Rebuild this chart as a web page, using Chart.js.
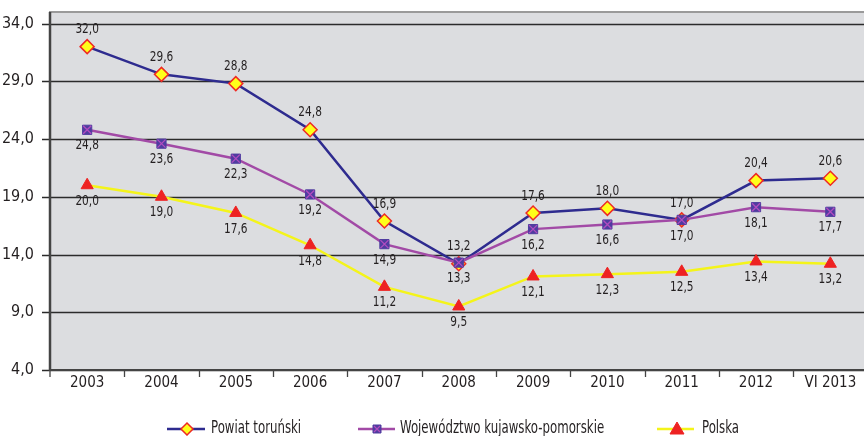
<!DOCTYPE html>
<html><head><meta charset="utf-8">
<script src="https://cdn.jsdelivr.net/npm/chart.js@4/dist/chart.umd.min.js"></script>
<style>html,body{margin:0;padding:0;background:#fff;overflow:hidden;width:864px;height:436px}#c{display:block}</style>
</head><body>
<canvas id="c" width="876" height="436"></canvas>
<script>
const categories = ['2003','2004','2005','2006','2007','2008','2009','2010','2011','2012','VI 2013'];
const powiat = [32.0, 29.6, 28.8, 24.8, 16.9, 13.2, 17.6, 18.0, 17.0, 20.4, 20.6];
const wojewodztwo = [24.8, 23.6, 22.3, 19.2, 14.9, 13.3, 16.2, 16.6, 17.0, 18.1, 17.7];
const polska = [20.0, 19.0, 17.6, 14.8, 11.2, 9.5, 12.1, 12.3, 12.5, 13.4, 13.2];
const yTicks = [4, 9, 14, 19, 24, 29, 34];
const seriesNames = ['Powiat toruński', 'Województwo kujawsko-pomorskie', 'Polska'];

const FONT = '"Liberation Sans Narrow", "DejaVu Sans Condensed", "Roboto Condensed", sans-serif';
const fmt = v => v.toFixed(1).replace('.', ',');
const labelPos = ['above', 'below', 'below'];

function narrowText(ctx, text, x, y, sx, align) {
  ctx.save();
  ctx.translate(x, y);
  ctx.scale(sx, 1);
  ctx.textAlign = align;
  ctx.fillText(text, 0, 0);
  ctx.restore();
}

const plugin = {
  id: 'custom',
  beforeDatasetsDraw(chart) {
    const {ctx, chartArea: a} = chart;
    ctx.save();
    ctx.fillStyle = '#dcdde0';
    ctx.fillRect(a.left, a.top, a.right - a.left, a.bottom - a.top);
    ctx.strokeStyle = '#9a9a9a';
    ctx.lineWidth = 2;
    ctx.beginPath();
    ctx.moveTo(a.left, a.bottom); ctx.lineTo(a.left, a.top); ctx.lineTo(a.right, a.top);
    ctx.stroke();
    const ys = chart.scales.y;
    ctx.strokeStyle = '#2b2b2b';
    ctx.lineWidth = 1.3;
    yTicks.forEach(t => {
      const y = Math.round(ys.getPixelForValue(t)) + 0.5;
      ctx.beginPath(); ctx.moveTo(a.left - 8, y); ctx.lineTo(a.right, y); ctx.stroke();
    });
    ctx.strokeStyle = '#444';
    ctx.lineWidth = 2.5;
    ctx.beginPath(); ctx.moveTo(a.left, a.top); ctx.lineTo(a.left, a.bottom + 1); ctx.stroke();
    ctx.lineWidth = 2;
    ctx.beginPath(); ctx.moveTo(a.left, a.bottom); ctx.lineTo(a.right, a.bottom); ctx.stroke();
    const xs = chart.scales.x;
    ctx.lineWidth = 1.3;
    for (let i = 0; i < categories.length; i++) {
      const x = i === 0 ? a.left : Math.round((xs.getPixelForValue(i - 1) + xs.getPixelForValue(i)) / 2) + 0.5;
      ctx.beginPath(); ctx.moveTo(x, a.bottom); ctx.lineTo(x, a.bottom + 7); ctx.stroke();
    }
    ctx.restore();
  },
  afterDatasetsDraw(chart) {
    const {ctx} = chart;
    ctx.save();
    const m1 = chart.getDatasetMeta(1);
    ctx.strokeStyle = '#b34cc0';
    ctx.lineWidth = 1.3;
    m1.data.forEach(p => {
      ctx.beginPath();
      ctx.moveTo(p.x - 4, p.y - 4); ctx.lineTo(p.x + 4, p.y + 4);
      ctx.moveTo(p.x + 4, p.y - 4); ctx.lineTo(p.x - 4, p.y + 4);
      ctx.stroke();
    });
    ctx.font = '14px ' + FONT;
    ctx.fillStyle = '#231f20';
    ctx.textBaseline = 'middle';
    chart.data.datasets.forEach((ds, di) => {
      const meta = chart.getDatasetMeta(di);
      meta.data.forEach((p, i) => {
        const dy = labelPos[di] === 'above' ? -17 : 16;
        narrowText(ctx, fmt(ds.data[i]), p.x, p.y + dy, 0.84, 'center');
      });
    });
    const items = [
      {x0: 167, x1: 205, mx: 187, tx: 211, ds: 0},
      {x0: 358, x1: 395, mx: 377, tx: 400, ds: 1},
      {x0: 657, x1: 694, mx: 677, tx: 702, ds: 2}
    ];
    const ly = 429;
    ctx.font = '17px ' + FONT;
    items.forEach(it => {
      const ds = chart.data.datasets[it.ds];
      ctx.strokeStyle = ds.borderColor;
      ctx.lineWidth = 2.5;
      ctx.beginPath(); ctx.moveTo(it.x0, ly); ctx.lineTo(it.x1, ly); ctx.stroke();
      ctx.fillStyle = ds.pointBackgroundColor; ctx.strokeStyle = ds.pointBorderColor;
      ctx.beginPath();
      if (ds.pointStyle === 'rectRot') { const r = 6; ctx.moveTo(it.mx, ly - r); ctx.lineTo(it.mx + r, ly); ctx.lineTo(it.mx, ly + r); ctx.lineTo(it.mx - r, ly); }
      else if (ds.pointStyle === 'rect') { ctx.rect(it.mx - 4, ly - 4, 8, 8); }
      else { ctx.moveTo(it.mx, ly - 7); ctx.lineTo(it.mx + 7, ly + 5); ctx.lineTo(it.mx - 7, ly + 5); }
      ctx.closePath(); ctx.fill(); ctx.lineWidth = ds.pointBorderWidth; ctx.stroke();
      if (ds.pointStyle === 'rect') {
        ctx.strokeStyle = '#b34cc0'; ctx.lineWidth = 1.2;
        ctx.beginPath(); ctx.moveTo(it.mx - 3, ly - 3); ctx.lineTo(it.mx + 3, ly + 3); ctx.moveTo(it.mx + 3, ly - 3); ctx.lineTo(it.mx - 3, ly + 3); ctx.stroke();
      }
      ctx.fillStyle = '#231f20';
      narrowText(ctx, seriesNames[it.ds], it.tx, ly, 0.77, 'left');
    });
    ctx.restore();
  }
};

new Chart(document.getElementById('c'), {
  type: 'line',
  data: {
    labels: categories,
    datasets: [
      {label: seriesNames[0], data: powiat, order: 2, borderColor: '#2e2b8f', borderWidth: 2.5,
       pointStyle: 'rectRot', pointRadius: 7, pointBackgroundColor: '#ffff1a', pointBorderColor: '#ee2a24', pointBorderWidth: 1.5, tension: 0},
      {label: seriesNames[1], data: wojewodztwo, order: 1, borderColor: '#a24aa6', borderWidth: 2.5,
       pointStyle: 'rect', pointRadius: 6.5, pointBackgroundColor: '#503ca0', pointBorderColor: '#503ca0', pointBorderWidth: 1, tension: 0},
      {label: seriesNames[2], data: polska, order: 0, borderColor: '#f4f41a', borderWidth: 2.5,
       pointStyle: 'triangle', pointRadius: 7, pointBackgroundColor: '#ee2222', pointBorderColor: '#ee2222', pointBorderWidth: 1, tension: 0}
    ]
  },
  options: {
    responsive: false,
    animation: false,
    layout: {padding: {top: 12, right: 1, left: 0, bottom: 0}},
    plugins: {legend: {display: false}, tooltip: {enabled: false}},
    scales: {
      x: {
        offset: true,
        grid: {display: false},
        border: {display: false},
        ticks: {color: '#231f20', font: {family: FONT, size: 15}, padding: -4, maxRotation: 0},
        afterFit(s) { s.height = 66; s.paddingLeft = 0; s.paddingRight = 0; }
      },
      y: {
        min: 4, max: 35,
        afterBuildTicks(s) { s.ticks = yTicks.map(v => ({value: v})); },
        grid: {display: false},
        border: {display: false},
        ticks: {color: '#231f20', font: {family: FONT, size: 16}, padding: 8, callback: v => fmt(v)},
        afterFit(s) { s.width = 50; s.paddingTop = 0; s.paddingBottom = 0; }
      }
    }
  },
  plugins: [plugin]
});
</script>
</body></html>
